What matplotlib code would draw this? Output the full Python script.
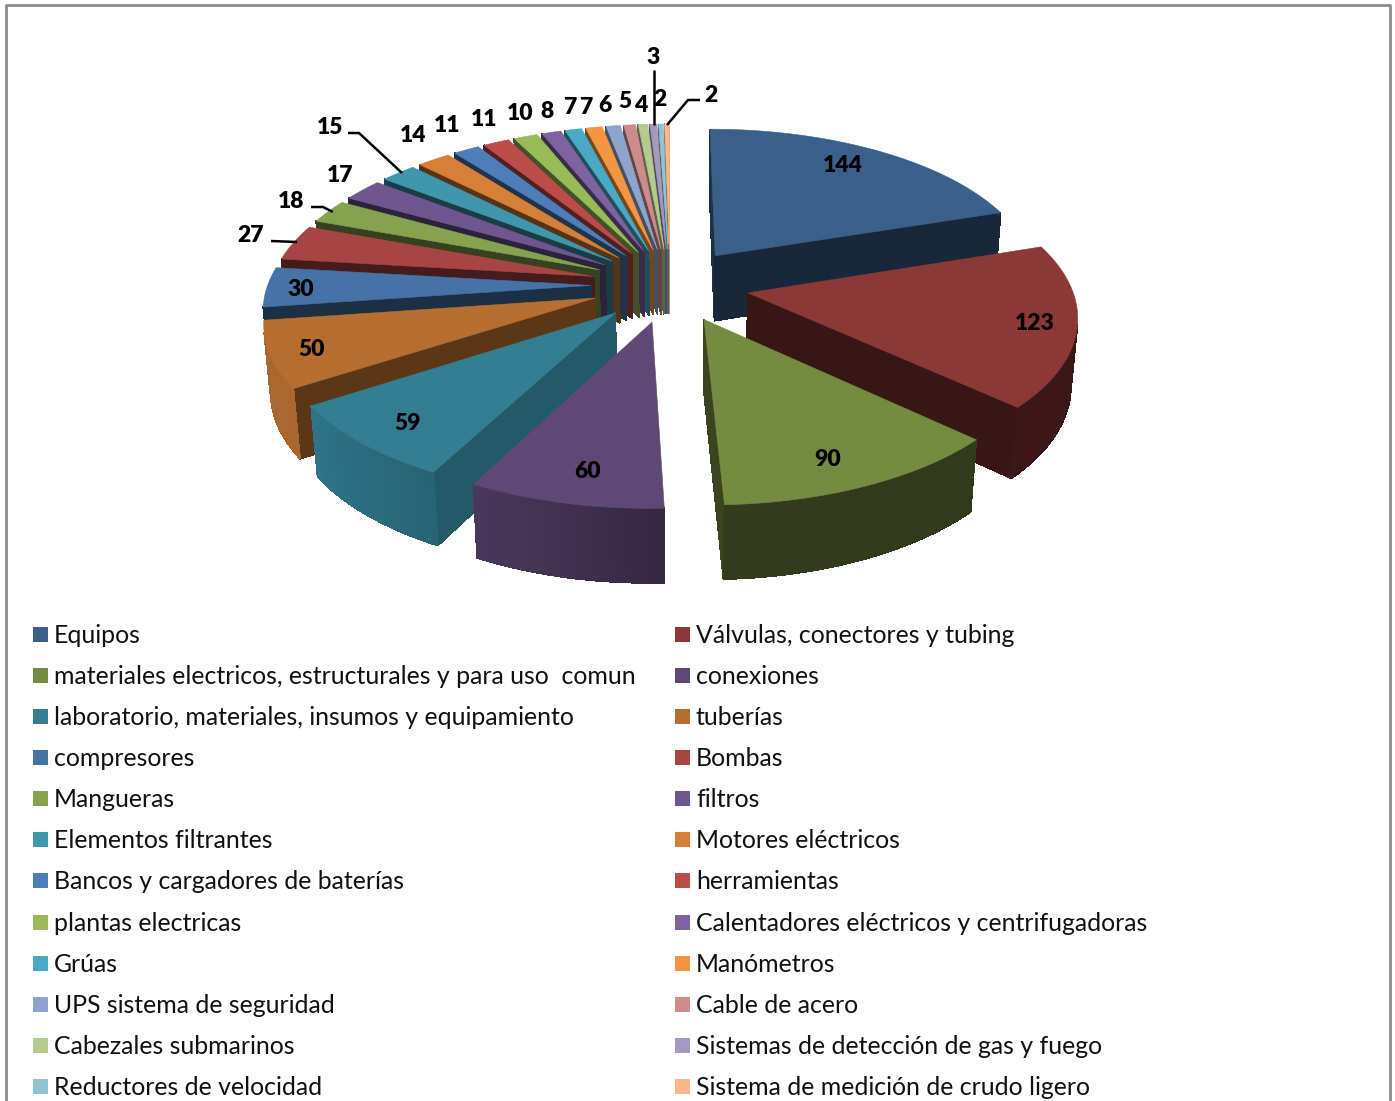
#!/usr/bin/env python3
from __future__ import annotations

import numpy as np
import matplotlib
matplotlib.use("Agg")
import matplotlib.pyplot as plt
from matplotlib.patches import Polygon, Rectangle

CATEGORIES = [
    "Equipos", "Válvulas, conectores y tubing",
    "materiales electricos, estructurales y para uso  comun", "conexiones",
    "laboratorio, materiales, insumos y equipamiento", "tuberías",
    "compresores", "Bombas",
    "Mangueras", "filtros",
    "Elementos filtrantes", "Motores eléctricos",
    "Bancos y cargadores de baterías", "herramientas",
    "plantas electricas", "Calentadores eléctricos y centrifugadoras",
    "Grúas", "Manómetros",
    "UPS sistema de seguridad", "Cable de acero",
    "Cabezales submarinos", "Sistemas de detección de gas y fuego",
    "Reductores de velocidad", "Sistema de medición de crudo ligero",
]
VALUES = [144, 123, 90, 60, 59, 50, 30, 27, 18, 17, 15, 14, 11, 11, 10, 8, 7, 7, 6, 5, 4, 3, 2, 2]
COLORS = [
    "#3A5F8B", "#8C3837", "#748B41", "#5F4876", "#337E92", "#B66E31",
    "#4572A7", "#A64543", "#87A24E", "#6F5690", "#3F96AD", "#D57F38",
    "#4D7EBA", "#BB4C4A", "#98BA59", "#7F63A1", "#4AAAC5", "#F59542",
    "#8DA5CE", "#CD8C8B", "#B3CB8E", "#A698BF", "#8FC4D3", "#F8B88A",
]

# where each data label sits, in picture pixels
LABEL_POS = [
    (843, 166), (1035, 324), (828, 460), (588, 472), (408, 424), (312, 350),
    (301, 290), (251, 236), (291, 202), (340, 176), (330, 128), (413, 136),
    (447, 126), (484, 120), (520, 114), (547, 112), (570, 108), (586, 108),
    (605, 106), (625, 102), (641, 106), (653, 58), (660, 100), (711, 96),
]
LEADERS = [
    [(654, 70), (654, 125)],
    [(700, 100), (688, 100), (667, 125)],
    [(348, 133), (359, 133), (402, 173)],
    [(311, 207), (323, 207), (333, 212)],
    [(271, 241), (297, 242)],
]
LEGEND_ROWS = [634, 675, 716, 757, 798, 839, 880, 922, 963, 1004, 1045, 1086]

# camera and pie shape, radius of the pie = 1
CX, Y0 = 670.0, 285.0
FOCAL, DIST, TILT = 2155.0, 6.67, np.radians(27.8)
HEIGHT = 0.235
EXPLODE = 0.245
FONT = "Lato"


def project(x, y, z):
    x, y, z = np.asarray(x, float), np.asarray(y, float), np.asarray(z, float)
    w = DIST + y * np.cos(TILT) - z * np.sin(TILT)
    return CX + FOCAL * x / w, Y0 - FOCAL * (y * np.sin(TILT) + z * np.cos(TILT)) / w


def shade(color, factor):
    rgb = np.array(matplotlib.colors.to_rgb(color))
    return tuple(np.clip(rgb * factor, 0, 1))


def faces_camera(px, py, nx, ny):
    # camera stands at (0, -D cos t, D sin t), walls are vertical
    return (0 - px) * nx + (-DIST * np.cos(TILT) - py) * ny > 0


def radial_factor(angle):
    return float(np.interp(angle % 360, [100, 117, 147, 161, 190, 230, 268, 300], [0.75, 0.72, 0.5, 0.42, 0.4, 0.4, 0.5, 0.5]))


def outer_factor(angle):
    return float(np.interp(angle % 360, [70, 177, 178, 207, 237, 270], [0.41, 0.43, 0.56, 0.78, 0.93, 0.95]))


def quad(ax, xs, ys, color):
    sx_top, sy_top = project(xs, ys, [0.0] * len(xs))
    sx_bot, sy_bot = project(xs, ys, [-HEIGHT] * len(xs))
    points = list(zip(sx_top, sy_top)) + list(zip(sx_bot[::-1], sy_bot[::-1]))
    ax.add_patch(Polygon(points, closed=True, facecolor=color, edgecolor=color, linewidth=0.5, antialiased=False))


def draw_slice(ax, start, end, color):
    mid = np.radians((start + end) / 2)
    ox, oy = EXPLODE * np.sin(mid), EXPLODE * np.cos(mid)
    thetas = np.linspace(start, end, max(int((end - start) / 1.5) + 2, 2))
    rad = np.radians(thetas)
    rim_x, rim_y = ox + np.sin(rad), oy + np.cos(rad)

    for angle, normal in ((start, start - 90), (end, end + 90)):
        a, n = np.radians(angle), np.radians(normal)
        if faces_camera(ox, oy, np.sin(n), np.cos(n)):
            quad(ax, [ox, ox + np.sin(a)], [oy, oy + np.cos(a)], shade(color, radial_factor(normal)))

    for i in range(len(thetas) - 1):
        m = (rad[i] + rad[i + 1]) / 2
        if faces_camera(ox + np.sin(m), oy + np.cos(m), np.sin(m), np.cos(m)):
            quad(ax, rim_x[i:i + 2], rim_y[i:i + 2], shade(color, outer_factor(np.degrees(m))))

    sx, sy = project(np.r_[ox, rim_x], np.r_[oy, rim_y], np.zeros(len(rim_x) + 1))
    ax.add_patch(Polygon(np.c_[sx, sy], closed=True, facecolor=color, edgecolor=color, linewidth=0.4))


def main():
    fig = plt.figure(figsize=(13.95, 11.01), dpi=100, facecolor="white")
    ax = fig.add_axes([0, 0, 1, 1])
    ax.set_xlim(0, 1395)
    ax.set_ylim(1101, 0)
    ax.axis("off")

    ax.plot([6, 6, 1390, 1390], [1101, 5, 5, 1101], color="#8C8C8C", lw=2.0)

    edges = np.r_[0, np.cumsum(VALUES)] / sum(VALUES) * 360.0
    order = sorted(range(len(VALUES)), key=lambda i: -np.cos(np.radians((edges[i] + edges[i + 1]) / 2)))
    for i in order:
        draw_slice(ax, edges[i], edges[i + 1], COLORS[i])

    for line in LEADERS:
        ax.plot(*zip(*line), color="black", lw=1.8, solid_capstyle="butt")
    for value, (x, y) in zip(VALUES, LABEL_POS):
        ax.text(x, y, str(value), ha="center", va="center", fontsize=16.5, fontweight="heavy",
                family=FONT, color="black")

    for i, (name, color) in enumerate(zip(CATEGORIES, COLORS)):
        row = LEGEND_ROWS[i // 2]
        x0 = 33 if i % 2 == 0 else 675
        ax.add_patch(Rectangle((x0, row - 7.5), 15, 15, facecolor=color, edgecolor="none"))
        ax.text(x0 + 21, row + 1.5, name, ha="left", va="center", fontsize=17.9, family=FONT, color="#111111")

    fig.savefig("out.png", dpi=100)
    plt.close(fig)


if __name__ == "__main__":
    main()
